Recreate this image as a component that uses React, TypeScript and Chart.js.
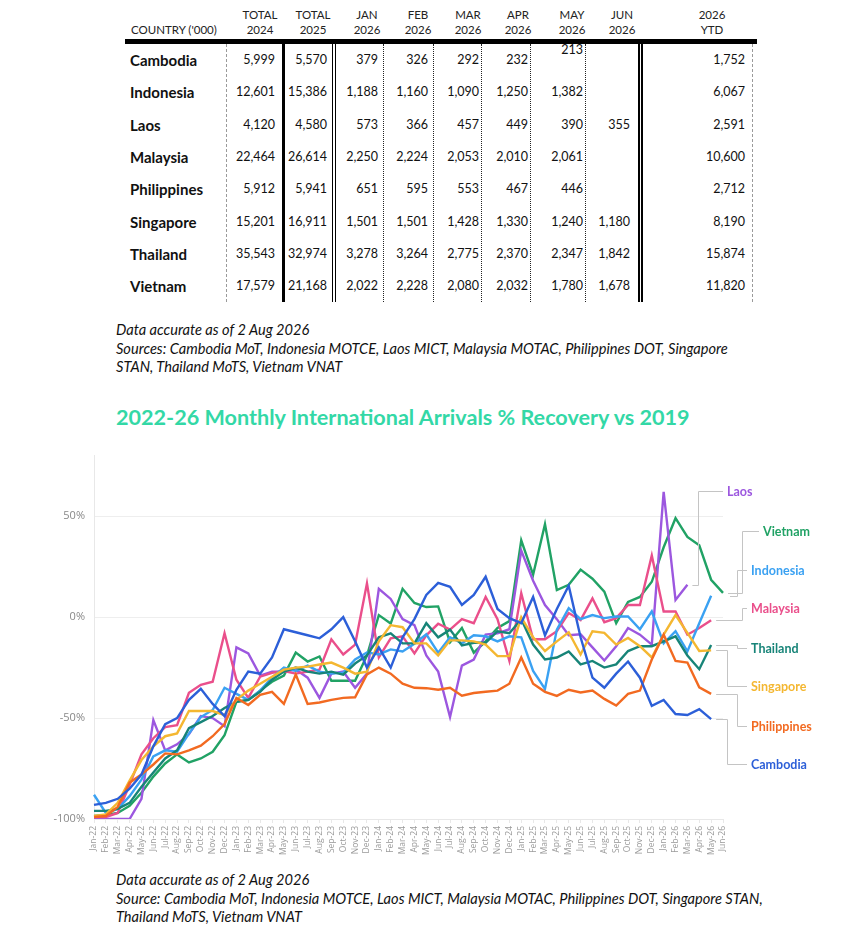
import React, { useEffect, useRef } from 'react';
import { Chart, registerables } from 'chart.js';
Chart.register(...registerables);

// ---------- Table data ----------
const COUNTRIES = ['Cambodia', 'Indonesia', 'Laos', 'Malaysia', 'Philippines', 'Singapore', 'Thailand', 'Vietnam'];
const TOTAL_2024 = [5999, 12601, 4120, 22464, 5912, 15201, 35543, 17579];
const TOTAL_2025 = [5570, 15386, 4580, 26614, 5941, 16911, 32974, 21168];
const JAN_2026 = [379, 1188, 573, 2250, 651, 1501, 3278, 2022];
const FEB_2026 = [326, 1160, 366, 2224, 595, 1501, 3264, 2228];
const MAR_2026 = [292, 1090, 457, 2053, 553, 1428, 2775, 2080];
const APR_2026 = [232, 1250, 449, 2010, 467, 1330, 2370, 2032];
const MAY_2026 = [213, 1382, 390, 2061, 446, 1240, 2347, 1780];
const JUN_2026 = [null, null, 355, null, null, 1180, 1842, 1678];
const YTD_2026 = [1752, 6067, 2591, 10600, 2712, 8190, 15874, 11820];

// ---------- Chart data ----------
const MONTHS = [
  'Jan-22', 'Feb-22', 'Mar-22', 'Apr-22', 'May-22', 'Jun-22', 'Jul-22', 'Aug-22', 'Sep-22', 'Oct-22', 'Nov-22', 'Dec-22',
  'Jan-23', 'Feb-23', 'Mar-23', 'Apr-23', 'May-23', 'Jun-23', 'Jul-23', 'Aug-23', 'Sep-23', 'Oct-23', 'Nov-23', 'Dec-23',
  'Jan-24', 'Feb-24', 'Mar-24', 'Apr-24', 'May-24', 'Jun-24', 'Jul-24', 'Aug-24', 'Sep-24', 'Oct-24', 'Nov-24', 'Dec-24',
  'Jan-25', 'Feb-25', 'Mar-25', 'Apr-25', 'May-25', 'Jun-25', 'Jul-25', 'Aug-25', 'Sep-25', 'Oct-25', 'Nov-25', 'Dec-25',
  'Jan-26', 'Feb-26', 'Mar-26', 'Apr-26', 'May-26', 'Jun-26',
];
const Y_TICKS = [-100, -50, 0, 50];

const CAMBODIA = [-93, -92, -90, -85, -78, -64, -53, -50, -41, -35.5, -43, -49, -36, -27, -28, -20, -6, -7.5, -9, -10.5, -6, 0, -12, -25, -15, -25, -10, -1, 11, 17, 15, 6, 11, 20, 4, -0.5, -3, 10, -9, 4, 15.5, -10, -30, -35, -28, -22, -30, -44, -41, -48, -48.5, -45.6, -50.5, null];
const PHILIPPINES = [-99, -98.5, -94, -82, -78, -73, -67.5, -68, -66, -63.7, -59, -53, -40, -43.5, -38.5, -37, -43, -28.4, -43, -42.3, -41, -40, -39.7, -28.4, -25, -28, -33, -35, -35.2, -36, -35, -38.9, -37.6, -37, -36.4, -33, -20, -33, -37, -39, -36, -37.3, -36.4, -40.5, -43.8, -38, -36.4, -21, -8.7, -21.7, -22.5, -34.8, -38, null];
const SINGAPORE = [-98.5, -97.7, -92, -81, -70.8, -64, -59, -57.6, -46.5, -46.5, -46.5, -48.5, -41, -36.4, -33, -29.5, -26, -25, -24.5, -23.5, -22.5, -25, -28, -27, -12, -4, -5, -13, -13, -19, -11.5, -11.5, -12, -13.6, -19.3, -19.3, 0, -10, -16.8, -12, -7.5, -18.5, -7, -7.8, -13.6, -10.3, -14.4, -20, -8.7, 1, -7.8, -16.8, -16.5, null];
const THAILAND = [-96, -96, -95, -92, -84, -77, -70, -66, -55, -52, -49, -45, -42, -41, -37, -31, -27, -25, -27, -28, -27, -28.5, -23, -19, -10, -8, -13, -13, -3, -10, -6.2, -14, -12.7, -12.7, -7, -8, -1, -13.6, -21, -20, -17, -23.4, -21.7, -25, -23.4, -16.8, -14.4, -14.4, -12, -9.5, -19, -25.8, -13.8, null];
const INDONESIA = [-88, -97, -95, -88.7, -80.5, -69, -66, -66.7, -57.7, -49.5, -46, -35, -38, -41, -36.4, -30, -25, -26.7, -24, -27, -28, -27.5, -21, -17.5, -18.5, -16, -17, -13.2, -8.5, -17.6, -10, -13, -9, -9.5, -12, -9.5, -10, -26.7, -35.6, -6.2, 4.4, -1, 1, -0.5, 0.3, 0.3, -6, 2.8, -13, -7, -17, -3, 10.6, null];
const MALAYSIA = [-99, -99, -97, -83, -68, -60, -54.5, -53.5, -37.5, -33.5, -32, -8, -31, -40, -29.5, -27.6, -26.7, -28, -27, -26, -11, -18.5, -13.6, 16.7, -20, -10.5, -9.5, -18, -9, -3.3, -6.2, -1, -3, 10, -1, -21.7, 11.8, -11, -11, -7, 2, -1.5, 9.3, -2.5, -0.5, 6, 6, 30.5, 2.8, 2.8, -8.7, -5.4, -1.5, null];
const LAOS = [-100, -100, -100, -100, -90, -51, -66, -63, -58, -49, -50, -54, -15, -18, -29, -27, -27, -26, -30, -40, -28, -27, -35, -28, 14, 9, -1, -4, -19, -27, -49.5, -24, -21, -8.7, -8, -6, 33, 18, 6, -1, -9, -8.5, -15, -21.5, -14.4, -5.4, -8.7, -13.6, 62, 8.5, 16, null, null, null];
const VIETNAM = [-98.5, -98, -97, -93.5, -87, -79, -72.5, -68, -72, -70, -66.7, -58.5, -42, -41, -36.4, -32, -29, -17.6, -22, -19.5, -31.5, -31.5, -31.5, -19, 1, -3.2, 14, 7, 5, 5.3, -12.5, -5.4, -17.6, -12, -5.4, -2, 38, 21, 46, 13.4, 16, 23.5, 19, 12.6, -3, 7.5, 10, 17.5, 34.6, 49, 39.7, 35.6, 18.5, 12];

// styles: colour + leader layout (offsets relative to the plot's right edge, label y in axis units)
const SERIES = [
  { label: 'Cambodia', data: CAMBODIA, color: '#2c5fd8', elbow: 4, labelAt: -73, textX: 28 },
  { label: 'Philippines', data: PHILIPPINES, color: '#f26a21', elbow: 14, labelAt: -54, textX: 28 },
  { label: 'Singapore', data: SINGAPORE, color: '#f4b731', elbow: 4, labelAt: -34.3, textX: 28 },
  { label: 'Thailand', data: THAILAND, color: '#178478', elbow: 14, labelAt: -15.2, textX: 28 },
  { label: 'Indonesia', data: INDONESIA, color: '#3aa1f2', elbow: 14, labelAt: 23.5, textX: 28, start: 7 },
  { label: 'Malaysia', data: MALAYSIA, color: '#ea4f8b', elbow: 19, labelAt: 4.4, textX: 28 },
  { label: 'Laos', data: LAOS, color: '#9c57df', elbow: -25, labelAt: 62.3, textX: 4 },
  { label: 'Vietnam', data: VIETNAM, color: '#21a265', elbow: 19, labelAt: 42.6, textX: 40 },
];

const leaderPlugin = {
  id: 'leaders',
  afterDatasetsDraw(chart: any) {
    const { ctx, chartArea, scales } = chart;
    ctx.save();
    SERIES.forEach((s, di) => {
      const meta = chart.getDatasetMeta(di);
      let pt: any = null;
      for (let i = s.data.length - 1; i >= 0; i--) {
        if (s.data[i] != null) { pt = meta.data[i]; break; }
      }
      if (!pt) return;
      const x0 = (s as any).start != null ? chartArea.right + (s as any).start : pt.x + 5;
      const y0 = Math.round(pt.y) + 0.5;
      const ex = Math.round(chartArea.right + s.elbow) + 0.5;
      const ly = Math.round(scales.y.getPixelForValue(s.labelAt)) + 0.5;
      const tx = chartArea.right + s.textX;
      ctx.strokeStyle = '#c4c4c4';
      ctx.lineWidth = 1;
      ctx.beginPath();
      ctx.moveTo(x0, y0);
      ctx.lineTo(ex, y0);
      ctx.lineTo(ex, ly);
      ctx.lineTo(tx - 4, ly);
      ctx.stroke();
      ctx.fillStyle = s.color;
      ctx.font = 'bold 12.5px Lato';
      ctx.textBaseline = 'middle';
      ctx.textAlign = 'left';
      ctx.fillText(s.label, tx, ly);
    });
    ctx.restore();
  },
};

const fmt = (v: number | null) => (v == null ? '' : v.toLocaleString('en-US'));

const COLS = [
  { head: ['TOTAL', '2024'], values: TOTAL_2024, right: 275, center: 260 },
  { head: ['TOTAL', '2025'], values: TOTAL_2025, right: 327, center: 313 },
  { head: ['JAN', '2026'], values: JAN_2026, right: 378, center: 367 },
  { head: ['FEB', '2026'], values: FEB_2026, right: 428, center: 418 },
  { head: ['MAR', '2026'], values: MAR_2026, right: 479, center: 468 },
  { head: ['APR', '2026'], values: APR_2026, right: 528, center: 518 },
  { head: ['MAY', '2026'], values: MAY_2026, right: 583, center: 572 },
  { head: ['JUN', '2026'], values: JUN_2026, right: 630, center: 622 },
  { head: ['2026', 'YTD'], values: YTD_2026, right: 745, center: 712 },
];

const DIVIDERS = [
  { x: 226, border: '1px dashed #9a9a9a' },
  { x: 282, border: '3px solid #000' },
  { x: 332, border: '4px double #000' },
  { x: 383, border: '1px dotted #222' },
  { x: 433, border: '1px dotted #222' },
  { x: 481, border: '1px dotted #222' },
  { x: 530, border: '1px dotted #222' },
  { x: 585, border: '1px dotted #222' },
  { x: 638, border: '5px double #000' },
  { x: 752, border: '1px dashed #9a9a9a' },
];

const ROW_TOP = 44;
const ROW_H = 32.3;
const TABLE_BOTTOM = 302;

function Table() {
  const els: any[] = [];
  COLS.forEach((c, ci) => {
    els.push(
      <div key={'h' + ci} style={{ position: 'absolute', left: c.center - 40, width: 80, top: 7, textAlign: 'center', fontSize: 11.5, lineHeight: '15px', color: '#222' }}>
        {c.head[0]}<br />{c.head[1]}
      </div>
    );
    c.values.forEach((v, ri) => {
      const raised = ci === 6 && ri === 0;
      els.push(
        <div key={'v' + ci + '-' + ri} style={{ position: 'absolute', left: c.right - 60, width: 60, top: ROW_TOP + ri * ROW_H + (raised ? -10 : 0), height: ROW_H, lineHeight: ROW_H + 'px', textAlign: 'right', fontSize: 12.5, color: '#111' }}>
          {fmt(v)}
        </div>
      );
    });
  });
  COUNTRIES.forEach((name, ri) => {
    els.push(
      <div key={'c' + ri} style={{ position: 'absolute', left: 130, top: ROW_TOP + ri * ROW_H, height: ROW_H, lineHeight: ROW_H + 'px', fontSize: 15, fontWeight: 700, color: '#111' }}>
        {name}
      </div>
    );
  });
  DIVIDERS.forEach((d, i) => {
    els.push(<div key={'d' + i} style={{ position: 'absolute', left: d.x, top: ROW_TOP, height: TABLE_BOTTOM - ROW_TOP, width: 0, borderLeft: d.border }} />);
  });
  return (
    <div style={{ position: 'absolute', left: 0, top: 0, width: 852, height: 310, fontFamily: 'Lato, sans-serif' }}>
      <div style={{ position: 'absolute', left: 131, top: 22, fontSize: 11.5, lineHeight: '15px', color: '#222', whiteSpace: 'nowrap' }}>COUNTRY ('000)</div>
      <div style={{ position: 'absolute', left: 125, top: 39, width: 632, height: 5, background: '#000' }} />
      {els}
    </div>
  );
}

const noteStyle: any = { position: 'absolute', left: 116, fontFamily: 'Lato, sans-serif', fontStyle: 'italic', fontSize: 14.6, lineHeight: '18.5px', color: '#111', whiteSpace: 'nowrap' };

export default function App() {
  const ref = useRef<HTMLCanvasElement>(null);
  useEffect(() => {
    const chart = new Chart(ref.current as HTMLCanvasElement, {
      type: 'line',
      data: {
        labels: MONTHS,
        datasets: SERIES.map((s) => ({
          label: s.label,
          data: s.data,
          borderColor: s.color,
          backgroundColor: s.color,
          borderWidth: 2.4,
          pointRadius: 0,
          tension: 0,
          fill: false,
          spanGaps: false,
        })),
      },
      options: {
        animation: false,
        responsive: false,
        layout: { padding: { left: 0, right: 129, top: 13, bottom: 11 } },
        plugins: { legend: { display: false }, tooltip: { enabled: false } },
        scales: {
          x: {
            type: 'category',
            offset: false,
            grid: { display: true, drawOnChartArea: false, drawTicks: true, tickLength: 4, color: '#e8e8e8' },
            border: { color: '#e8e8e8' },
            ticks: { autoSkip: false, minRotation: 90, maxRotation: 90, padding: 3, color: '#9a9a9a', font: { family: 'Open Sans', size: 8.5 } },
            afterFit: (s: any) => { s.height = 40; },
          },
          y: {
            min: -100,
            max: 80,
            afterBuildTicks: (s: any) => { s.ticks = Y_TICKS.map((v) => ({ value: v })); },
            grid: { color: '#eeeeee', drawTicks: false },
            border: { display: true, color: '#e8e8e8' },
            ticks: { padding: 9, color: '#888', font: { family: 'Open Sans', size: 11 }, callback: (v: any) => v + '%' },
            afterFit: (s: any) => { s.width = 94; },
          },
        },
      } as any,
      plugins: [leaderPlugin],
    });
    return () => chart.destroy();
  }, []);

  return (
    <div style={{ position: 'absolute', left: 0, top: 0, width: 852, height: 934, background: '#fff', overflow: 'hidden' }}>
      <Table />
      <div style={{ ...noteStyle, top: 321 }}>
        Data accurate as of 2 Aug 2026<br />
        Sources: Cambodia MoT, Indonesia MOTCE, Laos MICT, Malaysia MOTAC, Philippines DOT, Singapore<br />
        STAN, Thailand MoTS, Vietnam VNAT
      </div>
      <div style={{ position: 'absolute', left: 116, top: 404, fontFamily: 'Lato, sans-serif', fontWeight: 700, fontSize: 21.6, lineHeight: '26px', color: '#33d8a6', whiteSpace: 'nowrap' }}>
        2022-26 Monthly International Arrivals % Recovery vs 2019
      </div>
      <canvas ref={ref} width={852} height={430} style={{ position: 'absolute', left: 0, top: 440, width: 852, height: 430 }} />
      <div style={{ ...noteStyle, top: 871 }}>
        Data accurate as of 2 Aug 2026<br />
        Source: Cambodia MoT, Indonesia MOTCE, Laos MICT, Malaysia MOTAC, Philippines DOT, Singapore STAN,<br />
        Thailand MoTS, Vietnam VNAT
      </div>
    </div>
  );
}
